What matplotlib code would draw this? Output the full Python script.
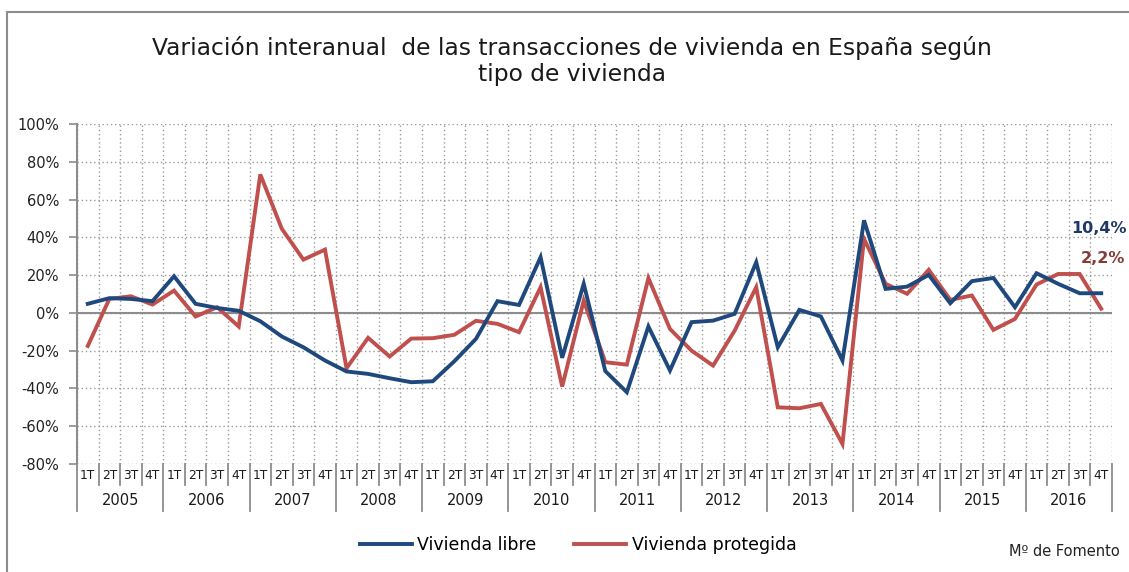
import numpy as np
import matplotlib
matplotlib.use('Agg')
import matplotlib.pyplot as plt
from matplotlib.lines import Line2D

# Datos (variación interanual, %)
years = ['2005', '2006', '2007', '2008', '2009', '2010',
         '2011', '2012', '2013', '2014', '2015', '2016']
quarters = ['1T', '2T', '3T', '4T']

vivienda_libre = [4.8, 7.8, 7.4, 6.2, 19.4, 4.8, 2.6, 1.1, -4.4, -12.5, -18.2, -25.2,
                  -31.0, -32.3, -34.6, -36.7, -36.2, -25.6, -13.8, 6.2, 4.2, 29.5, -23.8, 15.4,
                  -30.8, -42.0, -7.2, -30.5, -4.9, -4.1, -0.5, 26.8, -18.2, 1.6, -1.9, -25.2,
                  49.0, 12.7, 13.9, 20.1, 5.1, 16.8, 18.5, 3.0, 21.0, 15.4, 10.4, 10.4]

vivienda_protegida = [-17.5, 7.4, 8.8, 4.4, 11.8, -1.9, 3.0, -7.2, 73.3, 44.5, 28.2, 33.5,
                      -29.3, -13.2, -23.1, -13.6, -13.4, -11.6, -4.2, -5.8, -10.2, 13.6, -39.0, 6.5,
                      -26.1, -27.4, 18.4, -8.5, -20.0, -27.9, -9.4, 13.6, -50.0, -50.5, -48.2, -69.4,
                      39.2, 15.4, 10.1, 22.8, 6.9, 9.2, -9.0, -3.2, 15.0, 20.6, 20.6, 2.2]

last_labels = ['10,4%', '2,2%']

BLUE = '#1f497d'
RED = '#c0504d'
GRID = '#9a9a9a'
AXIS = '#8c8c8c'

plt.rcParams['font.family'] = ['DejaVu Sans']

fig = plt.figure(figsize=(11.29, 5.72), dpi=100)
ax = fig.add_axes([77 / 1129, 1 - 464 / 572, (1112 - 77) / 1129, 340 / 572])

n = len(vivienda_libre)
x = np.arange(n) + 0.5

ax.plot(x, vivienda_libre, color=BLUE, lw=2.8, solid_joinstyle='miter', label='Vivienda libre', zorder=4)
ax.plot(x, vivienda_protegida, color=RED, lw=2.8, solid_joinstyle='miter', label='Vivienda protegida', zorder=3)

ax.set_xlim(0, n)
ax.set_ylim(-80, 100)
ax.set_yticks(np.arange(-80, 101, 20))
ax.set_yticklabels([f'{v}%' for v in range(-80, 101, 20)], fontsize=10.5, color='#222222')
ax.set_xticks(np.arange(0, n + 1))
ax.set_xticklabels([])
ax.tick_params(axis='x', length=0)
ax.tick_params(axis='y', direction='out', length=6, width=1.2, color=AXIS, pad=7)

ax.grid(True, color=GRID, linestyle=(0, (1, 2)), linewidth=1.0)
ax.set_axisbelow(True)
for s in ['top', 'right', 'bottom']:
    ax.spines[s].set_visible(False)
ax.spines['left'].set_color(AXIS)
ax.spines['left'].set_linewidth(1.5)
ax.axhline(0, color=AXIS, lw=1.5, zorder=2)

# Eje de categorías: trimestres y años
trans = ax.get_xaxis_transform()
for i in range(n):
    ax.text(i + 0.5, -0.033, quarters[i % 4], transform=trans, ha='center', va='center',
            fontsize=8.8, color='#1a1a1a')
for i in range(n + 1):
    if i % 4 == 0:
        y_end = -0.138
    else:
        y_end = -0.062
    ax.add_line(Line2D([i, i], [0, y_end], transform=trans, color=AXIS, lw=1.3, clip_on=False))
for j, yr in enumerate(years):
    ax.text(j * 4 + 2, -0.106, yr, transform=trans, ha='center', va='center',
            fontsize=10.5, color='#1a1a1a')

# Etiquetas finales
ax.text(n - 0.6, 44.5, last_labels[0], ha='center', va='center', fontsize=11.5,
        fontweight='bold', color='#1f3864', clip_on=False)
ax.text(n - 0.4, 29.0, last_labels[1], ha='center', va='center', fontsize=11.5,
        fontweight='bold', color='#843c39', clip_on=False)

fig.text(572 / 1129, 1 - 61 / 572,
         'Variación interanual  de las transacciones de vivienda en España según\ntipo de vivienda',
         ha='center', va='center', fontsize=16.8, color='#1a1a1a', linespacing=1.2)

fig.legend(loc='center', bbox_to_anchor=(578 / 1129, 1 - 545 / 572), ncol=2, frameon=False,
           fontsize=12.5, handlelength=3.0, handletextpad=0.3, columnspacing=2.2)

fig.text(1120 / 1129, 1 - 551 / 572, 'Mº de Fomento', ha='right', va='center',
         fontsize=10.5, color='#222222')

# Marco
fig.add_artist(Line2D([7 / 1129, 7 / 1129], [0, 1 - 12 / 572], transform=fig.transFigure,
                      color=AXIS, lw=1.5))
fig.add_artist(Line2D([7 / 1129, 1], [1 - 12 / 572, 1 - 12 / 572], transform=fig.transFigure,
                      color=AXIS, lw=1.5))

fig.savefig('out.png', dpi=100)
